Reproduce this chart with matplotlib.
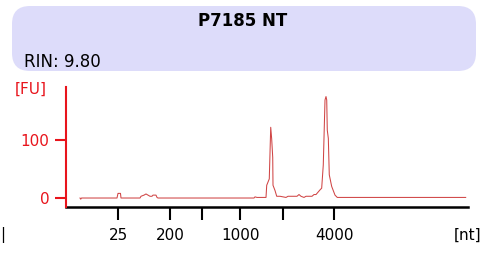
import matplotlib
matplotlib.use('Agg')
import matplotlib.pyplot as plt
from matplotlib.patches import FancyBboxPatch
from matplotlib.transforms import IdentityTransform

# electropherogram trace: migration time [s] vs fluorescence [FU]
time = [21.75, 21.84, 21.94, 26.375, 26.5, 26.56, 26.81, 26.875,
        29.25, 29.375, 29.75, 30.0, 30.25, 30.5, 30.75, 30.875, 31.25, 31.375, 31.5,
        43.5, 43.625, 43.875, 45.0, 45.09, 45.41, 45.59, 45.71, 45.84, 45.875, 46.125, 46.34,
        46.75, 47.5, 47.75, 48.875, 49.125, 49.375, 49.75, 50.0, 50.75, 51.0, 51.25, 51.5, 51.75,
        51.96, 52.16, 52.375, 52.5, 52.59, 52.66, 52.79, 52.91, 53.21, 53.625, 53.91, 69.96]
fu = [0, -2, 0, 0, 8, 8, 8, 0,
      0, 3, 5, 7, 5, 3, 3, 5, 5, 1, 0,
      0, 2, 1, 1, 22, 33, 122, 102, 70, 22, 13, 3,
      3, 1, 3, 3, 6, 3, 1, 3, 3, 6, 6, 10, 14,
      17, 57, 169, 175, 169, 117, 103, 40, 20, 5, 1, 1]

ladder_pos = [26.54, 33.04, 37.0, 41.79, 47.09, 53.5]
ladder_lab = ['25', '200', '', '1000', '', '4000']
sample = 'P7185 NT'
rin = 'RIN: 9.80'

fig = plt.figure(figsize=(4.9, 2.54), dpi=100)
ax = fig.add_axes([66/490, 47/254, 402/490, 120.3/254])

ax.plot(time, fu, color='#d04545', linewidth=0.75)
ax.set_xlim(20, 70.25)
ax.set_ylim(-15.5, 192)

for s in ['top', 'right']:
    ax.spines[s].set_visible(False)
ax.spines['left'].set_color('#e8141c')
ax.spines['left'].set_linewidth(1.5)
ax.spines['bottom'].set_color('black')
ax.spines['bottom'].set_linewidth(1.8)
ax.spines['left'].set_zorder(5)

ax.set_yticks([0, 100])
ax.set_yticklabels(['0', '100'])
ax.tick_params(axis='y', colors='#e8141c', labelcolor='#e8141c', length=8,
               width=1.5, pad=4, labelsize=11)
ax.set_xticks(ladder_pos)
ax.set_xticklabels(ladder_lab)
ax.tick_params(axis='x', colors='black', length=9, width=1.5, pad=6, labelsize=11)

# header box
box = FancyBboxPatch((12, 254 - 71), 464, 65,
                     boxstyle='round,pad=0,rounding_size=18',
                     transform=IdentityTransform(),
                     facecolor='#dddcfa', edgecolor='none')
fig.add_artist(box)
fig.text(243/490, 1 - 21.5/254, sample, ha='center', va='center',
         fontsize=12, fontweight='bold')
fig.text(24/490, 1 - 62/254, rin, ha='left', va='center', fontsize=12)

fig.text(31/490, 1 - 89.5/254, '[FU]', ha='center', va='center',
         fontsize=11, color='#e8141c')
fig.text(468/490, 1 - 235/254, '[nt]', ha='center', va='center', fontsize=11)
fig.text(0.5/490, 1 - 235/254, '|', ha='left', va='center', fontsize=11)

fig.savefig('out.png', dpi=100)
